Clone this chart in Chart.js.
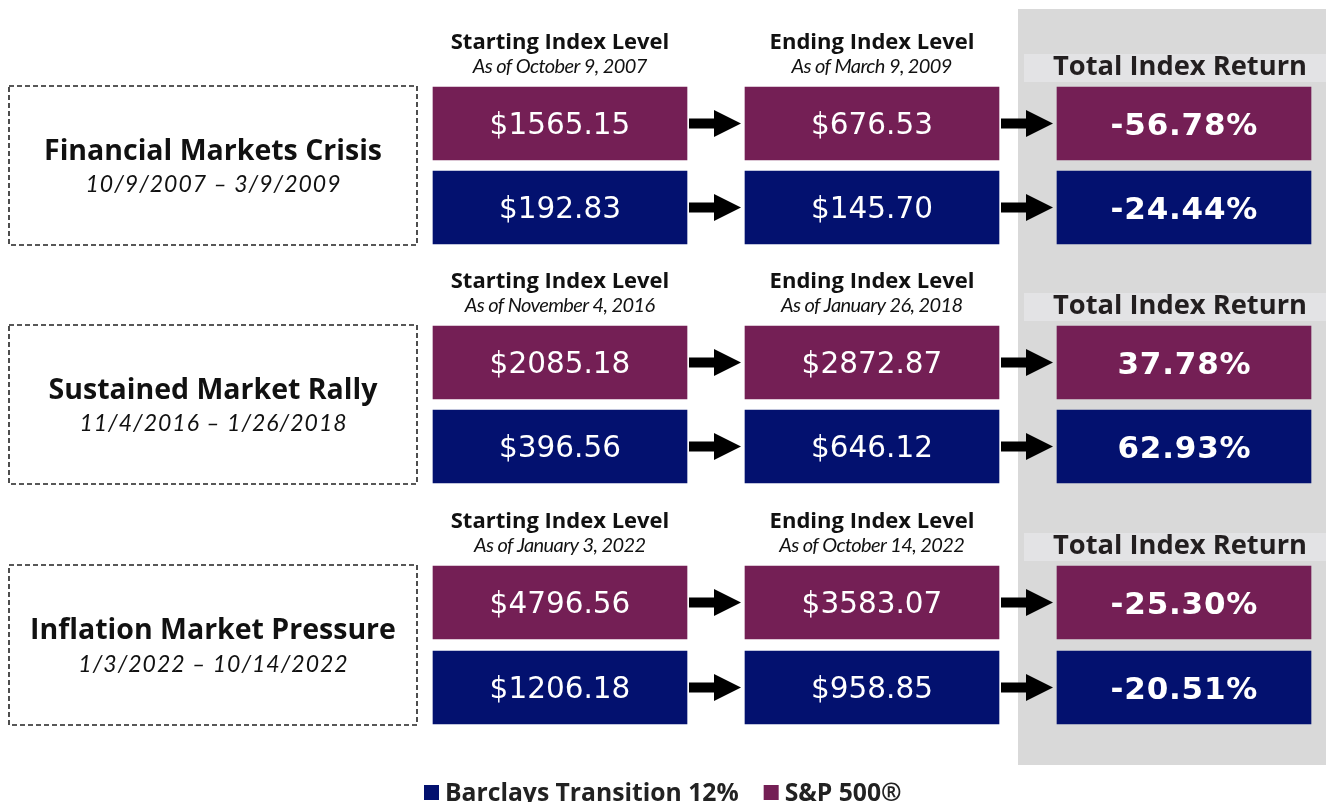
<!DOCTYPE html>
<html>
<head>
<meta charset="utf-8">
<script src="https://cdn.jsdelivr.net/npm/chart.js@4"></script>
<style>
html,body{margin:0;padding:0;background:#fff;}
#wrap{width:1326px;height:802px;}
</style>
</head>
<body>
<div id="wrap"><canvas id="c" width="1326" height="802"></canvas></div>
<script>
// ---- data ----
const groups = ['Financial Markets Crisis', 'Sustained Market Rally', 'Inflation Market Pressure'];
const periods = ['10/9/2007 \u2013 3/9/2009', '11/4/2016 \u2013 1/26/2018', '1/3/2022 \u2013 10/14/2022'];
const columnTitles = ['Starting Index Level', 'Ending Index Level', 'Total Index Return'];
const startDates = ['As of October 9, 2007', 'As of November 4, 2016', 'As of January 3, 2022'];
const endDates = ['As of March 9, 2009', 'As of January 26, 2018', 'As of October 14, 2022'];
const seriesNames = ['S&P 500\u00AE', 'Barclays Transition 12%'];
const spStart = [1565.15, 2085.18, 4796.56];
const spEnd = [676.53, 2872.87, 3583.07];
const spReturn = [-56.78, 37.78, -25.30];
const btStart = [192.83, 396.56, 1206.18];
const btEnd = [145.70, 646.12, 958.85];
const btReturn = [-24.44, 62.93, -20.51];

// ---- layout / style ----
const PURPLE = '#741F55';
const NAVY = '#03116F';
const colLeft = [433, 745, 1057];
const colWidth = 254;
const groupTop = [87, 326, 566];
const rowPitch = [84, 84, 85];
const barH = 73;
const LATO = 'Lato, "Open Sans", sans-serif';
const OPEN = '"Open Sans", Lato, sans-serif';
const DEJA = '"DejaVu Sans", sans-serif';

function rowCenter(g, s) { return groupTop[g] + s * rowPitch[g] + barH / 2; }

function buildData(series, s) {
  const out = [];
  for (let g = 0; g < groups.length; g++) {
    series.forEach((vals, c) => {
      out.push({ x: [colLeft[c], colLeft[c] + colWidth], y: rowCenter(g, s), v: vals[g], col: c, g: g });
    });
  }
  return out;
}

const datasets = [
  { label: seriesNames[1], data: buildData([btStart, btEnd, btReturn], 1), backgroundColor: NAVY, borderWidth: 0 },
  { label: seriesNames[0], data: buildData([spStart, spEnd, spReturn], 0), backgroundColor: PURPLE, borderWidth: 0 }
];

function txt(ctx, s, x, y, font, color, spacing, align) {
  ctx.font = font;
  ctx.fillStyle = color;
  ctx.letterSpacing = (spacing || 0) + 'px';
  ctx.textAlign = align || 'center';
  let xx = x;
  if ((align || 'center') === 'center' && spacing) xx = x + spacing / 2;
  ctx.fillText(s, xx, y);
  const w = ctx.measureText(s).width;
  ctx.letterSpacing = '0px';
  return w;
}

const deco = {
  id: 'deco',
  beforeDatasetsDraw(chart) {
    const { ctx, scales: { x, y } } = chart;
    ctx.save();
    const gx = x.getPixelForValue(1018), gy = y.getPixelForValue(9);
    ctx.fillStyle = '#D9D9D9';
    ctx.fillRect(gx, gy, x.getPixelForValue(1326) - gx, y.getPixelForValue(765) - gy);
    ctx.fillStyle = '#E3E3E5';
    for (let g = 0; g < groups.length; g++) {
      const t = y.getPixelForValue(groupTop[g] - 33);
      ctx.fillRect(x.getPixelForValue(1024), t, x.getPixelForValue(1326) - x.getPixelForValue(1024), 28);
    }
    ctx.restore();
  },
  afterDatasetsDraw(chart) {
    const { ctx, scales: { x, y } } = chart;
    ctx.save();
    ctx.textBaseline = 'alphabetic';
    for (let g = 0; g < groups.length; g++) {
      const top = y.getPixelForValue(groupTop[g]);
      const bottom = y.getPixelForValue(rowCenter(g, 1) + barH / 2);
      ctx.strokeStyle = '#222';
      ctx.lineWidth = 1.6;
      ctx.setLineDash([5, 3]);
      ctx.strokeRect(x.getPixelForValue(9), top - 1, x.getPixelForValue(417) - x.getPixelForValue(9), bottom - top + 2);
      ctx.setLineDash([]);
      const mid = (top + bottom) / 2;
      const cx = x.getPixelForValue(213);
      txt(ctx, groups[g], cx, mid - 6, 'bold 28.5px ' + OPEN, '#111', 0);
      txt(ctx, periods[g], cx, mid + 26.5, 'italic 23px ' + LATO, '#111', 1);

      const subs = [startDates[g], endDates[g]];
      for (let c = 0; c < 2; c++) {
        const hx = x.getPixelForValue(colLeft[c] + colWidth / 2);
        txt(ctx, columnTitles[c], hx, top - 38.5, 'bold 22px ' + OPEN, '#111', 0);
        txt(ctx, subs[c], hx, top - 14, 'italic 20px ' + LATO, '#111', -0.6);
      }
      txt(ctx, columnTitles[2], x.getPixelForValue(1180), top - 12.5, 'bold 27.3px ' + OPEN, '#231F20', 0);

      ctx.fillStyle = '#000';
      for (let s = 0; s < 2; s++) {
        const cy = y.getPixelForValue(rowCenter(g, s));
        for (let c = 0; c < 2; c++) {
          const x0 = x.getPixelForValue(colLeft[c] + colWidth + 2);
          const tip = x.getPixelForValue(colLeft[c + 1] - 4);
          const hs = tip - 27;
          ctx.fillRect(x0, cy - 5, hs - x0 + 1, 10);
          ctx.beginPath();
          ctx.moveTo(hs, cy - 13.5);
          ctx.lineTo(tip, cy);
          ctx.lineTo(hs, cy + 13.5);
          ctx.closePath();
          ctx.fill();
        }
      }
    }
    chart.data.datasets.forEach((ds, di) => {
      const meta = chart.getDatasetMeta(di);
      meta.data.forEach((bar, i) => {
        const d = ds.data[i];
        const p = bar.getProps(['x', 'y', 'base'], true);
        const bx = (p.x + p.base) / 2;
        if (d.col === 2) {
          txt(ctx, d.v.toFixed(2) + '%', bx, p.y + 11.5, 'bold 31px ' + DEJA, '#fff', 0.8);
        } else {
          txt(ctx, '$' + d.v.toFixed(2), bx, p.y + 10.5, '29.5px ' + DEJA, '#fff', 0);
        }
      });
    });
    let lx = x.getPixelForValue(424);
    const ly = y.getPixelForValue(801);
    chart.data.datasets.forEach((ds) => {
      ctx.fillStyle = ds.backgroundColor;
      ctx.fillRect(lx, ly - 16, 15, 15);
      const w = txt(ctx, ds.label, lx + 21, ly, 'bold 24.7px ' + OPEN, '#222', 0, 'left');
      lx += 21 + w + 25;
    });
    ctx.restore();
  }
};

new Chart(document.getElementById('c'), {
  type: 'bar',
  data: { datasets },
  options: {
    responsive: false,
    animation: false,
    indexAxis: 'y',
    grouped: false,
    barThickness: barH,
    layout: { padding: 0 },
    plugins: { legend: { display: false }, tooltip: { enabled: false } },
    scales: {
      x: { type: 'linear', min: 0, max: 1326, display: false, offset: false },
      y: { type: 'linear', min: 0, max: 802, reverse: true, display: false, offset: false }
    }
  },
  plugins: [deco]
});
</script>
</body>
</html>
